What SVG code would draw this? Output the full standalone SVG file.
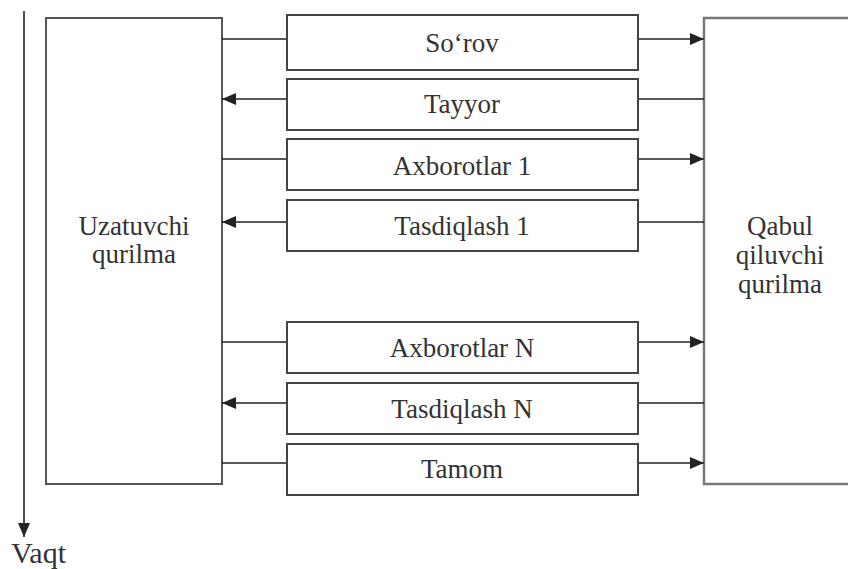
<svg xmlns="http://www.w3.org/2000/svg" width="848" height="569" viewBox="0 0 848 569">
<style>
.box{fill:#fff;stroke:#444;stroke-width:2}
.big{fill:#fff;stroke:#555;stroke-width:2}
.ln{stroke:#222;stroke-width:1.6;fill:none}
text{font-family:"Times New Roman",Tinos,"Noto Serif","DejaVu Serif","Liberation Serif",Times,FreeSerif,serif;font-size:27px;fill:#333;text-anchor:middle}
.v{font-size:30px;text-anchor:start}
</style>
<defs>
<marker id="ah" viewBox="0 0 14 12" refX="14" refY="6" markerWidth="14" markerHeight="12" markerUnits="userSpaceOnUse" orient="auto">
<path d="M0,0 L14,6 L0,12 Z" fill="#222"/>
</marker>
</defs>
<g id="axis">
<line class="ln" x1="24" y1="11" x2="24" y2="537" marker-end="url(#ah)"/>
<text class="v" x="11" y="563">Vaqt</text>
</g>
<g id="sender">
<rect class="big" x="46" y="18" width="176" height="466"/>
<text x="134" y="235">Uzatuvchi</text>
<text x="134" y="263">qurilma</text>
</g>
<g id="receiver">
<rect class="big" x="704" y="18" width="160" height="466" style="stroke:#777;stroke-width:2.5"/>
<text x="780" y="235">Qabul</text>
<text x="780" y="264">qiluvchi</text>
<text x="780" y="293">qurilma</text>
</g>
<g id="connectors">
<line class="ln" x1="222" y1="39" x2="287" y2="39"/>
<line class="ln" x1="638" y1="39" x2="704" y2="39" marker-end="url(#ah)"/>
<line class="ln" x1="704" y1="99" x2="638" y2="99"/>
<line class="ln" x1="287" y1="99" x2="222" y2="99" marker-end="url(#ah)"/>
<line class="ln" x1="222" y1="159" x2="287" y2="159"/>
<line class="ln" x1="638" y1="159" x2="704" y2="159" marker-end="url(#ah)"/>
<line class="ln" x1="704" y1="222" x2="638" y2="222"/>
<line class="ln" x1="287" y1="222" x2="222" y2="222" marker-end="url(#ah)"/>
<line class="ln" x1="222" y1="342" x2="287" y2="342"/>
<line class="ln" x1="638" y1="342" x2="704" y2="342" marker-end="url(#ah)"/>
<line class="ln" x1="704" y1="403" x2="638" y2="403"/>
<line class="ln" x1="287" y1="403" x2="222" y2="403" marker-end="url(#ah)"/>
<line class="ln" x1="222" y1="463" x2="287" y2="463"/>
<line class="ln" x1="638" y1="463" x2="704" y2="463" marker-end="url(#ah)"/>
</g>
<g id="m1"><rect class="box" x="287" y="15" width="351" height="55"/><text x="462" y="52">So‘rov</text></g>
<g id="m2"><rect class="box" x="287" y="79" width="351" height="51"/><text x="462" y="113">Tayyor</text></g>
<g id="m3"><rect class="box" x="287" y="139" width="351" height="51"/><text x="462" y="175">Axborotlar 1</text></g>
<g id="m4"><rect class="box" x="287" y="200" width="351" height="51"/><text x="462" y="235">Tasdiqlash 1</text></g>
<g id="m5"><rect class="box" x="287" y="322" width="351" height="51"/><text x="462" y="357">Axborotlar N</text></g>
<g id="m6"><rect class="box" x="287" y="383" width="351" height="51"/><text x="462" y="418">Tasdiqlash N</text></g>
<g id="m7"><rect class="box" x="287" y="444" width="351" height="51"/><text x="462" y="478">Tamom</text></g>
</svg>
